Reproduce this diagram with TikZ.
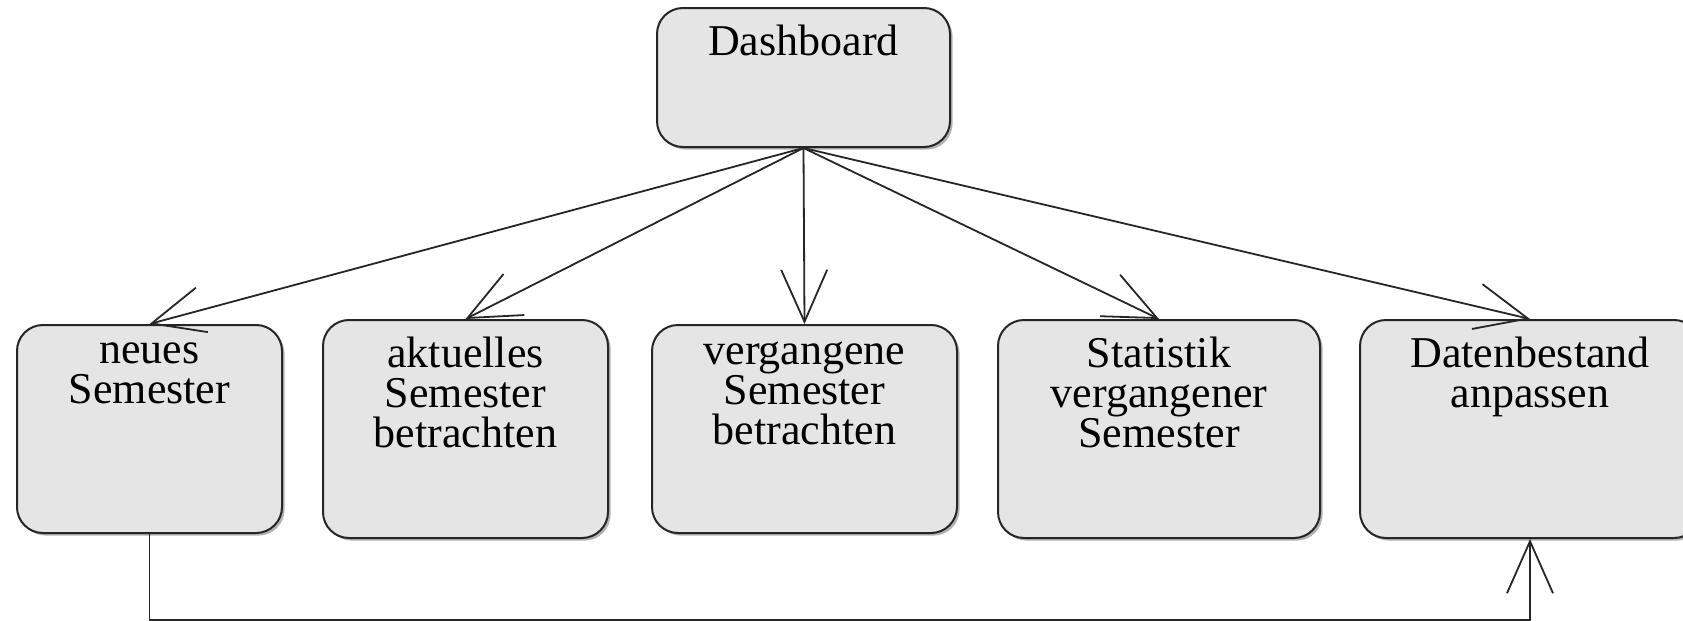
\documentclass[tikz,border=0pt]{standalone}
\usepackage{fontspec}
\setmainfont{Liberation Serif}
\usetikzlibrary{arrows.meta, shadows}

\tikzset{
  kasten/.style={draw=black!85, fill=gray!20, line width=1pt, rounded corners=13pt,
    drop shadow={shadow xshift=1.3pt, shadow yshift=-1.3pt, fill=black!50, opacity=0.6}},
  schrift/.style={font=\fontsize{22}{20}\selectfont, align=center, inner sep=0pt,
    anchor=north, yshift=-9pt},
  pfeil/.style={-{Straight Barb[length=26pt, width=23pt]}, line width=0.9pt, draw=black!85},
}

\begin{document}
\begin{tikzpicture}[x=0.5pt, y=-0.5pt]
\useasboundingbox (0,0) rectangle (1683,621);
\clip (0,0) rectangle (1683,621);

% Startseite
\node[kasten, minimum width=146.5pt, minimum height=69.5pt,
  label={[schrift]north:Dashboard}] (dash) at (803.5,77.5) {};

% Unterseiten
\node[kasten, minimum width=132.5pt, minimum height=104pt,
  label={[schrift]north:{neues\\Semester}}] (neu) at (149.5,429) {};
\node[kasten, minimum width=142.5pt, minimum height=109pt,
  label={[schrift]north:{aktuelles\\Semester\\betrachten}}] (aktuell) at (465.5,429) {};
\node[kasten, minimum width=152.5pt, minimum height=104pt,
  label={[schrift]north:{vergangene\\Semester\\betrachten}}] (vergangen) at (804.5,429) {};
\node[kasten, minimum width=161pt, minimum height=109pt,
  label={[schrift]north:{Statistik\\vergangener\\Semester}}] (statistik) at (1159,429) {};
\node[kasten, minimum width=170pt, minimum height=109pt,
  label={[schrift]north:{Datenbestand\\anpassen}}] (daten) at (1530,429) {};

% Verbindungen
\foreach \ziel in {neu, aktuell, vergangen, statistik, daten}
  \draw[pfeil] (dash.south) -- (\ziel.north);
\draw[pfeil] (neu.south) -- ++(0,86) -| (daten.south);

\end{tikzpicture}
\end{document}
